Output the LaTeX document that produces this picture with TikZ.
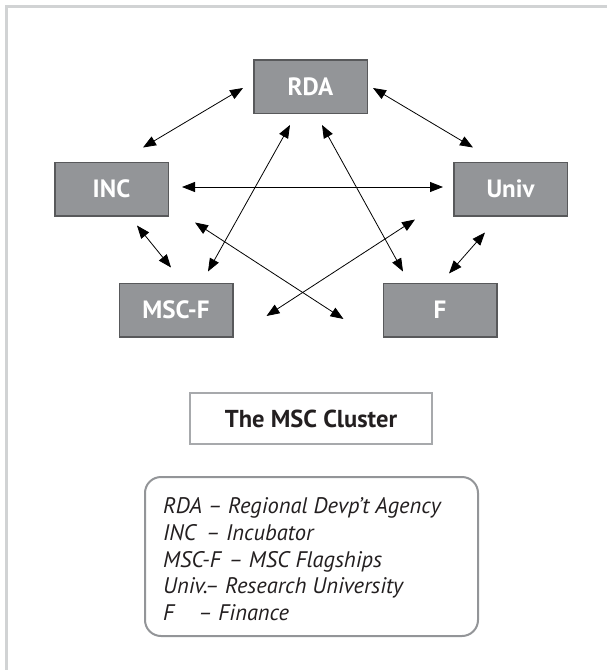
\documentclass[tikz,border=0pt]{standalone}
\usepackage{fontspec}
\setmainfont{PT Sans}
\usetikzlibrary{arrows.meta}
\usetikzlibrary{calc}

\definecolor{boxgray}{HTML}{939598}
\definecolor{edgegray}{HTML}{58595B}
\definecolor{linegray}{HTML}{A7A9AC}
\definecolor{framegray}{HTML}{D1D3D4}
\definecolor{inkgray}{HTML}{231F20}

\begin{document}
\begin{tikzpicture}[x=1pt,y=-1pt,
    actor/.style={draw=edgegray,line width=1.5pt,fill=boxgray,minimum width=113.5pt,
      minimum height=53.5pt,inner sep=0pt,text=white,font=\fontsize{25}{29}\selectfont\bfseries},
    link/.style={{Triangle[length=13pt,width=10pt]}-{Triangle[length=13pt,width=10pt]},
      line width=0.8pt,draw=black},
    legline/.style={anchor=base west,inner sep=0pt,text=inkgray,
      font=\fontsize{22.5}{26}\selectfont\itshape}]
    \useasboundingbox (0,0) rectangle (607,670);
    % page frame (top and left only)
    \draw[framegray,line width=2.5pt] (6.5,670) -- (6.5,6.5) -- (607,6.5);

    \node[actor] (RDA) at (310.5,86.5) {RDA};
    \node[actor] (INC) at (111.5,189) {INC};
    \node[actor] (Univ) at (510.5,189) {Univ};
    \node[actor] (MSCF) at (176,310) {MSC-F};
    \node[actor] (F) at (440,310) {F};

    \draw[link] ([shift={(-10,1.5)}]RDA.west) -- ([shift={(31.5,-14)}]INC.north);
    \draw[link] ([shift={(5,1.5)}]RDA.east) -- ([shift={(-37.5,-14)}]Univ.north);
    \draw[link] ([shift={(13,-2)}]INC.east) -- ([shift={(-10,-2)}]Univ.west);
    \draw[link] ([shift={(-20.5,11)}]RDA.south) -- ([shift={(32,-11)}]MSCF.north);
    \draw[link] ([shift={(11.5,11)}]RDA.south) -- ([shift={(-37,-11)}]F.north);
    \draw[link] ([shift={(25.5,9)}]INC.south) -- ([shift={(-5,-15)}]MSCF.north);
    \draw[link] ([shift={(-25.5,16)}]Univ.south) -- ([shift={(9,-9)}]F.north);
    \draw[link] ([shift={(26,6)}]INC.south east) -- ([shift={(-39,9)}]F.west);
    \draw[link] ([shift={(-38,3)}]Univ.south west) -- ([shift={(33,6)}]MSCF.east);

    \node[draw=linegray,line width=2pt,minimum width=242pt,minimum height=51pt,
      text=inkgray,font=\fontsize{24.5}{28}\selectfont\bfseries] (title) at (311,418.5) {The MSC Cluster};

    % legend
    \node[draw=boxgray,line width=2pt,rounded corners=16pt,minimum width=333pt,
      minimum height=159pt] (legend) at (311.5,556.5) {};
    \node[legline] (keyRDA) at (163,513) {RDA – Regional Devp’t Agency};
    \node[legline] (keyINC) at (163,540) {INC\hspace{10pt}– Incubator};
    \node[legline] (keyMSCF) at (163,567) {MSC-F\hspace{8pt}– MSC Flagships};
    \node[legline] (keyUniv) at (163,593.5) {Univ.– Research University};
    \node[legline] (keyF) at (163,620) {F\hspace{24pt}– Finance};
\end{tikzpicture}
\end{document}
